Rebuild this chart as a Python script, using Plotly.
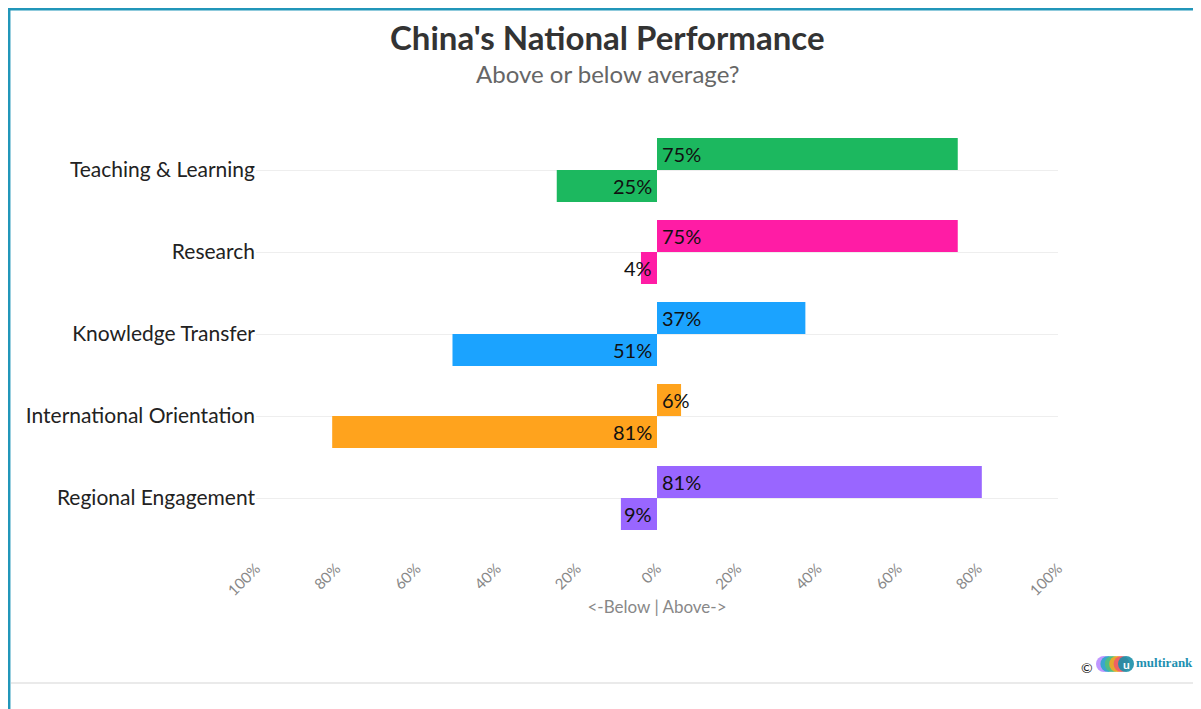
import plotly.graph_objects as go

categories = ["Teaching & Learning", "Research", "Knowledge Transfer",
              "International Orientation", "Regional Engagement"]
above = [75, 75, 37, 6, 81]
below = [25, 4, 51, 81, 9]
colors = ["#1cb85f", "#ff1ca5", "#1ba3ff", "#ffa31d", "#9966ff"]
tick_vals = [-100, -80, -60, -40, -20, 0, 20, 40, 60, 80, 100]
tick_text = ["100%", "80%", "60%", "40%", "20%", "0%", "20%", "40%", "60%", "80%", "100%"]

FONT = "Lato"
W, H = 1201, 709
OFF = 8  # page body margin
L, R = 256 - OFF, W - (1058 - OFF)
T, B = 129 - OFF, H - (539 - OFF)
pw, ph = W - L - R, H - T - B

def px(x):  # screen px -> paper
    return (x - OFF - L) / pw

def py(y):
    return (H - B - (y - OFF)) / ph

fig = go.Figure()
fig.add_trace(go.Bar(y=categories, x=above, orientation="h", name="Above",
                     marker=dict(color=colors, line=dict(width=0)),
                     hoverinfo="x+y"))
fig.add_trace(go.Bar(y=categories, x=[-v for v in below], orientation="h", name="Below",
                     marker=dict(color=colors, line=dict(width=0)),
                     hoverinfo="x+y"))

annotations = []
for c, a, b in zip(categories, above, below):
    annotations.append(dict(x=0, y=c, xref="x", yref="y", text=f"{a}%", showarrow=False,
                            xanchor="left", xshift=3, yshift=16,
                            font=dict(family=FONT, size=20, color="#111")))
    annotations.append(dict(x=0, y=c, xref="x", yref="y", text=f"{b}%", showarrow=False,
                            xanchor="right", xshift=-3, yshift=-16,
                            font=dict(family=FONT, size=20, color="#111")))

# titles
annotations.append(dict(x=px(607), y=py(37), xref="paper", yref="paper",
                        text="<b>China's National Performance</b>", showarrow=False,
                        font=dict(family=FONT, size=33, color="#333"),
                        xanchor="center", yanchor="middle"))
annotations.append(dict(x=px(607), y=py(73), xref="paper", yref="paper",
                        text="Above or below average?", showarrow=False,
                        font=dict(family=FONT, size=24, color="#666"),
                        xanchor="center", yanchor="middle"))
# logo
annotations.append(dict(x=px(1087), y=py(667), xref="paper", yref="paper", text="©",
                        showarrow=False, font=dict(family=FONT, size=14, color="#222"),
                        xanchor="center", yanchor="middle"))
annotations.append(dict(x=px(1134), y=py(662), xref="paper", yref="paper", text="<b>multirank</b>",
                        showarrow=False, font=dict(family="Liberation Serif", size=13, color="#1d8fb0"),
                        xanchor="left", yanchor="middle"))
annotations.append(dict(x=px(1126), y=py(664), xref="paper", yref="paper", text="<b>u</b>",
                        showarrow=False, font=dict(family=FONT, size=12, color="white"),
                        xanchor="center", yanchor="middle"))

shapes = [
    dict(type="line", xref="paper", yref="paper", x0=px(7), x1=px(1210), y0=py(9.2), y1=py(9.2),
         line=dict(color="#2196b9", width=2.5)),
    dict(type="line", xref="paper", yref="paper", x0=px(9.2), x1=px(9.2), y0=py(8), y1=py(720),
         line=dict(color="#2196b9", width=2.5)),
    dict(type="line", xref="paper", yref="paper", x0=px(11), x1=px(1210), y0=py(683), y1=py(683),
         line=dict(color="#e3e3e3", width=1.5)),
]
logo_colors = ["#b98cff", "#2aa7c9", "#52c07a", "#f5a623", "#ef5a6a", "#1a8fa8"]
for i, col in enumerate(logo_colors):
    cx = 1104 + i * 4.4
    if i == 5:
        cx = 1126
    shapes.append(dict(type="circle", xref="paper", yref="paper",
                       x0=px(cx - 8), x1=px(cx + 8), y0=py(656), y1=py(672),
                       fillcolor=col, line=dict(width=0), opacity=0.9))

fig.update_layout(
    width=W, height=H,
    margin=dict(l=L, r=R, t=T, b=B, autoexpand=False),
    barmode="group", bargap=0.22, bargroupgap=0,
    showlegend=False,
    plot_bgcolor="white", paper_bgcolor="white",
    font=dict(family=FONT),
    annotations=annotations, shapes=shapes,
    xaxis=dict(range=[-100, 100], tickvals=tick_vals, ticktext=tick_text,
               tickangle=-45, tickfont=dict(family=FONT, size=15, color="#888"),
               ticks="outside", ticklen=14, tickcolor="rgba(255,255,255,0)",
               showgrid=False, zeroline=False, showline=False, fixedrange=True,
               title=dict(text="&lt;-Below | Above-&gt;", font=dict(family=FONT, size=17, color="#888"),
                          standoff=3)),
    yaxis=dict(autorange="reversed", showgrid=True, gridcolor="#eeeeee", gridwidth=1,
               ticks="", tickfont=dict(family=FONT, size=21, color="#222"), fixedrange=True),
)

fig.write_html("out.html")
